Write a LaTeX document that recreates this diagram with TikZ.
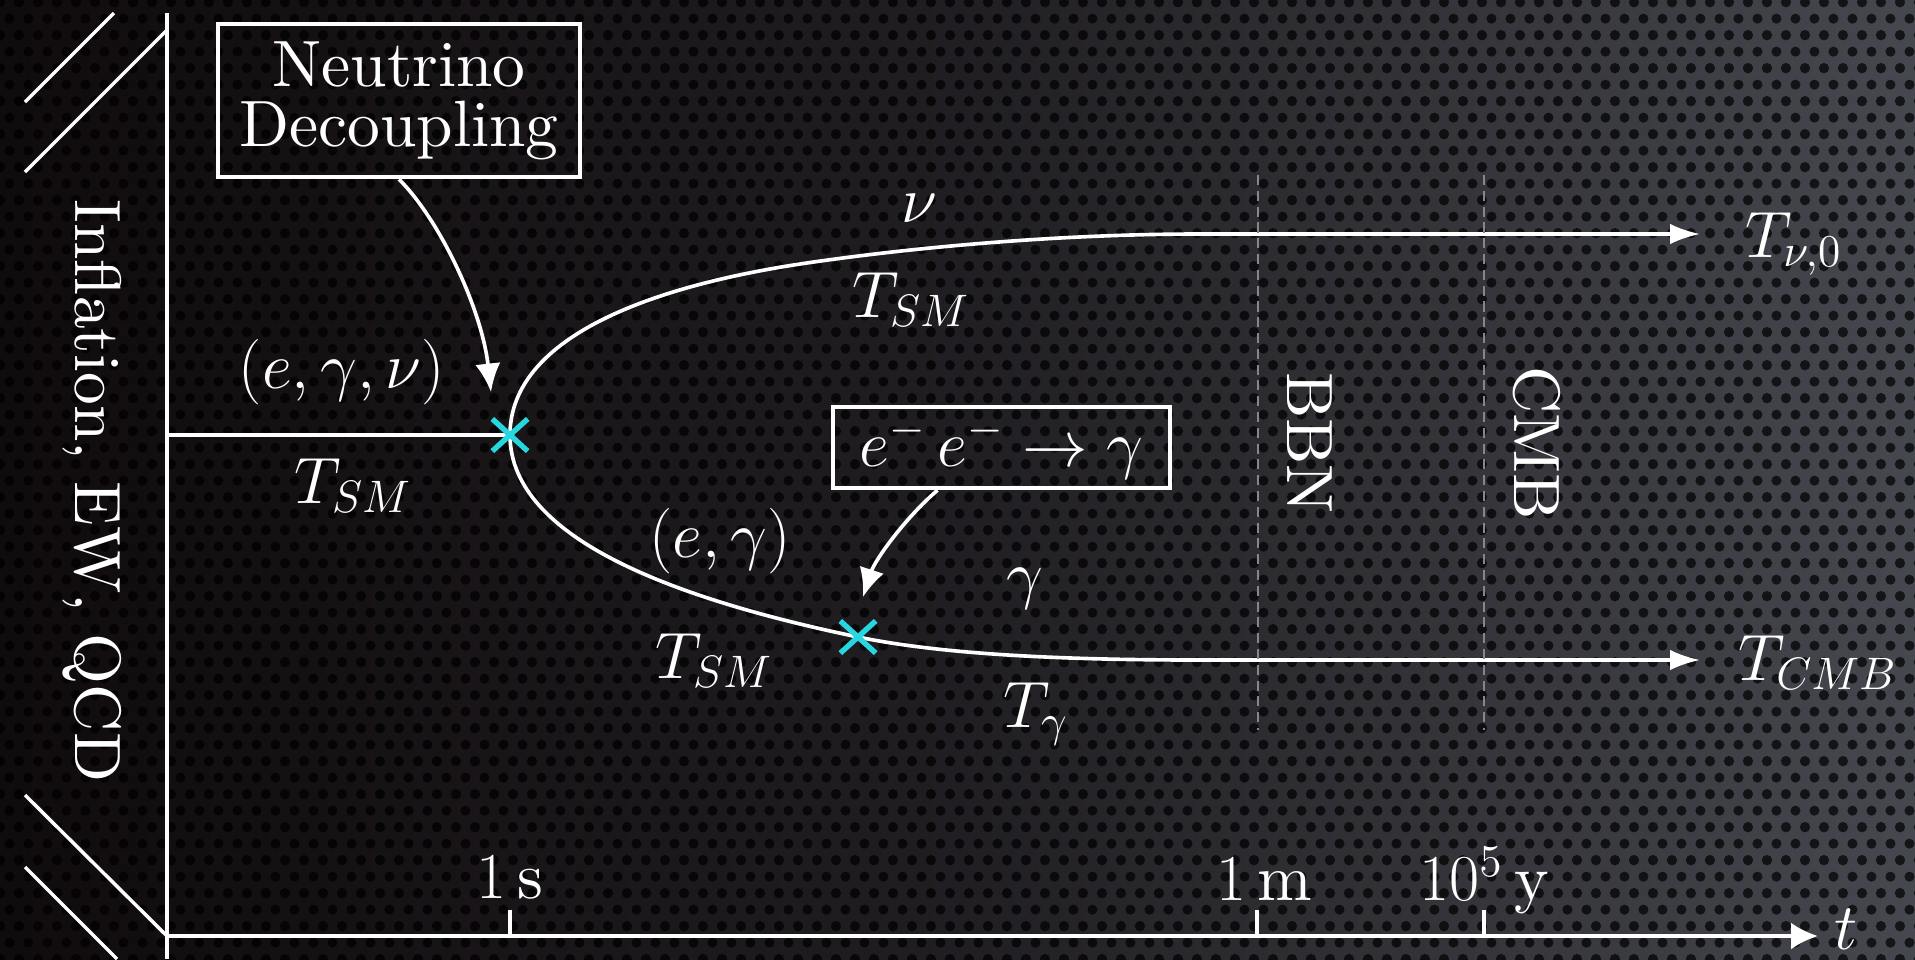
\documentclass[tikz,border=0pt]{standalone}
\usepackage{fontspec}
\setmainfont{lmroman10-regular.otf}[ItalicFont=lmroman10-italic.otf, BoldFont=lmroman10-bold.otf]
\usetikzlibrary{arrows.meta,shapes.misc,patterns,calc}
\definecolor{cyanx}{RGB}{40,214,224}
\definecolor{bgleft}{RGB}{16,11,12}
\definecolor{bgmid}{RGB}{32,30,34}
\definecolor{bgright}{RGB}{70,72,79}
\definecolor{dashgray}{RGB}{135,135,139}
\pgfdeclarepatternformonly{hexholes}{\pgfpointorigin}{\pgfpoint{6pt}{10.392pt}}{\pgfpoint{6pt}{10.392pt}}{%
  \pgfpathcircle{\pgfpoint{0pt}{0pt}}{1.6pt}%
  \pgfpathcircle{\pgfpoint{6pt}{0pt}}{1.6pt}%
  \pgfpathcircle{\pgfpoint{0pt}{10.392pt}}{1.6pt}%
  \pgfpathcircle{\pgfpoint{6pt}{10.392pt}}{1.6pt}%
  \pgfpathcircle{\pgfpoint{3pt}{5.196pt}}{1.6pt}%
  \pgfusepath{fill}%
}
\pgfdeclarelayer{back}
\pgfdeclarelayer{lines}
\pgfsetlayers{back,lines,main}
\begin{document}
\begin{tikzpicture}[x=0.011129cm, y=-0.011129cm,
  every node/.style={text=white, font=\huge, inner sep=0pt},
  axis/.style={white, line width=1.3pt},
  curve/.style={white, line width=1.15pt},
  tsmline/.style={white, line width=1.2pt},
  mainarrow/.style={-{Latex[length=9.5pt,width=6.5pt]}},
  lead/.style={white, line width=1.15pt, -{Latex[length=9pt,width=8pt]}},
  frame/.style={draw=white, line width=1.4pt},
  xmark/.style={cross out, draw=cyanx, line width=1.7pt, minimum width=9.5pt, minimum height=8.5pt},
  epoch/.style={draw=dashgray, dash pattern=on 3.2pt off 1.8pt},
  brk/.style={white, line width=1.1pt},
]
\useasboundingbox (0,0) rectangle (1915,959);
\begin{pgfonlayer}{back}
  \shade[left color=bgleft, right color=bgright, middle color=bgmid] (0,0) rectangle (1915,959);
  \fill[pattern=hexholes, pattern color=black, fill opacity=0.7] (0,0) rectangle (1915,959);
\end{pgfonlayer}

% axes
\coordinate (ytop) at (167,13);
\coordinate (ybot) at (167,959);
\coordinate (orig) at (167,936);
\coordinate (xend) at (1818,936);
\draw[axis] (ytop) -- (ybot);
\draw[axis, -{Latex[length=8.5pt,width=8.5pt]}] (orig) -- (xend);
\node[anchor=base west] (tlab) at (1834,949) {$t$};

% ticks
\coordinate (k1) at (510,936);
\coordinate (k2) at (1257,936);
\coordinate (k3) at (1484,936);
\draw[axis] (k1) -- ++(0,-26);
\draw[axis] (k2) -- ++(0,-26);
\draw[axis] (k3) -- ++(0,-26);
\node[anchor=base] (l1s) at (510,898) {$1\,\mathrm{s}$};
\node[anchor=base] (l1m) at (1264,900) {$1\,\mathrm{m}$};
\node[anchor=base] (l105) at (1484,900) {$10^5\,\mathrm{y}$};

% epochs
\coordinate (bbntop) at (1258,175);
\coordinate (bbnbot) at (1258,730);
\coordinate (cmbtop) at (1484,175);
\coordinate (cmbbot) at (1484,730);
\draw[epoch, line width=0.45pt] (bbntop) -- (bbnbot);
\draw[epoch, line width=0.6pt] (cmbtop) -- (cmbbot);
\node[rotate=-90, anchor=base] (bbn) at (1287,443) {BBN};
\node[rotate=-90, anchor=base] (cmb) at (1514,443) {CMB};

% left break and label
\coordinate (bA1) at (25,102); \coordinate (bA2) at (114,13);
\coordinate (bB1) at (25,172); \coordinate (bB2) at (167,30);
\coordinate (bC1) at (25,795);
\coordinate (bD1) at (25,867); \coordinate (bD2) at (117,959);
\draw[brk] (bA1) -- (bA2);
\draw[brk] (bB1) -- (bB2);
\draw[brk] (bC1) -- (orig);
\draw[brk] (bD1) -- (bD2);
\node[rotate=-90, anchor=base] (infl) at (75,491) {Inflation, EW, QCD};

% boxes
\node[frame, minimum width=4.029cm, minimum height=1.703cm, align=center,
      font=\fontsize{20.74}{19}\selectfont] (ndec) at (399,100.5) {Neutrino\\Decoupling};
\node[frame, minimum width=3.751cm, minimum height=0.901cm] (ann) at (1001.5,447.5) {$e^-\,e^- \to \gamma$};

% crosses
\node[xmark] (x1) at (510,435) {};
\node[xmark] (x2) at (858,637) {};

% curves
\coordinate (nuend) at (1700,234);
\coordinate (gend) at (1700,660);
\coordinate (yjoin) at (167,435);
\coordinate (tip1) at (491,392);
\coordinate (tip2) at (863,597);
\begin{pgfonlayer}{lines}
  \draw[tsmline] (yjoin) -- (x1.center);
  \draw[curve, mainarrow] (x1.center) .. controls (510,345) and (630,290) .. (800,264)
        .. controls (900,249) and (1050,234) .. (1200,234) -- (nuend);
  \draw[curve, mainarrow] (x1.center) .. controls (510,540) and (680,600) .. (x2.center)
        .. controls (950,656) and (1080,660) .. (1200,660) -- (gend);
  \draw[lead] (ndec.south) .. controls (440,220) and (482,310) .. (tip1);
  \draw[lead] ($(ann.south)+(-64,0)$) .. controls (905,518) and (875,560) .. (tip2);
\end{pgfonlayer}

% labels
\node[anchor=base] (leg) at (342,388) {$(e,\gamma,\nu)$};
\node[anchor=base] (tsm0) at (353,503) {$T_{SM}$};
\node[anchor=base] (nul) at (919,222) {$\nu$};
\node[anchor=base] (tsm1) at (911,317) {$T_{SM}$};
\node[anchor=base] (eg) at (720,557) {$(e,\gamma)$};
\node[anchor=base] (tsm2) at (714,678) {$T_{SM}$};
\node[anchor=base] (gl) at (1025,596) {$\gamma$};
\node[anchor=base] (tg) at (1036,727) {$T_\gamma$};
\node[anchor=base west] (tnu) at (1745,257) {$T_{\nu,0}$};
\node[anchor=base west] (tcmb) at (1738,680) {$T_{CMB}$};
\end{tikzpicture}
\end{document}
